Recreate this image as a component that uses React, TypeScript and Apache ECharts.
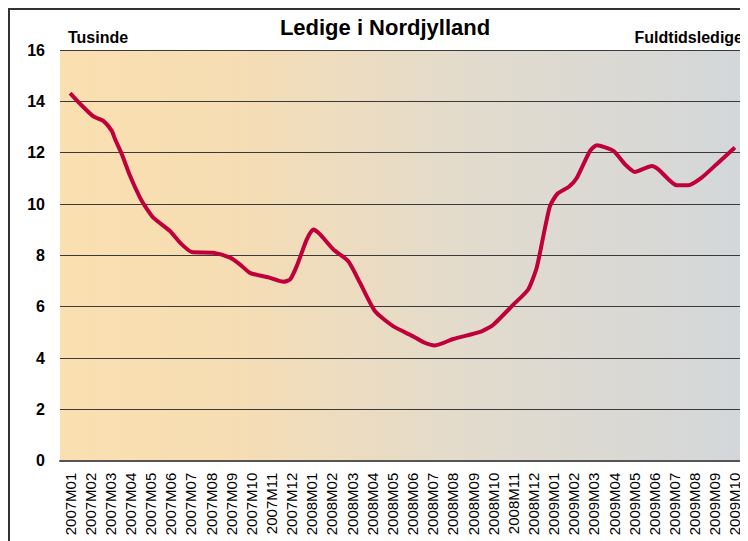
import React, { useEffect, useRef } from "react";
import * as echarts from "echarts";

const months: string[] = [
  "2007M01", "2007M02", "2007M03", "2007M04", "2007M05", "2007M06", "2007M07", "2007M08", "2007M09", "2007M10", "2007M11", "2007M12",
  "2008M01", "2008M02", "2008M03", "2008M04", "2008M05", "2008M06", "2008M07", "2008M08", "2008M09", "2008M10", "2008M11", "2008M12",
  "2009M01", "2009M02", "2009M03", "2009M04", "2009M05", "2009M06", "2009M07", "2009M08", "2009M09", "2009M10",
];

// position in months from 2007M01 (weekly-ish observations)
const linePos: number[] = [
  0, 0.5, 1.16, 1.65, 2.07, 2.23, 2.57, 2.98, 3.47, 3.72, 4.13, 4.96, 5.46, 6.04, 7.11, 7.94, 8.44, 8.93, 9.93, 10.59, 10.92,
  11.25, 11.75, 12.07, 12.41, 13.07, 13.81, 14.39, 15.14, 16.05, 17.04, 17.53, 18.11, 19.02, 20.43, 21.01, 22.0, 22.74, 23.16,
  23.49, 23.82, 24.19, 24.76, 25.14, 25.81, 26.14, 26.97, 27.54, 28.04, 28.54, 28.87, 29.2, 30.11, 30.69, 31.35, 32.09, 33.0,
];
const lineVal: number[] = [
  14.32, 13.9, 13.41, 13.24, 12.85, 12.53, 11.94, 11.09, 10.25, 9.92, 9.47, 8.95, 8.49, 8.13, 8.1, 7.91, 7.64, 7.32, 7.12, 6.97, 7.06,
  7.58, 8.62, 9.01, 8.82, 8.23, 7.77, 6.93, 5.82, 5.23, 4.84, 4.62, 4.49, 4.74, 5.04, 5.3, 6.08, 6.67, 7.52,
  8.75, 9.92, 10.4, 10.67, 11.0, 12.07, 12.29, 12.07, 11.55, 11.25, 11.4, 11.48, 11.35, 10.73, 10.73, 11.03, 11.55, 12.2,
];

const yTicks = { min: 0, max: 16, interval: 2 };

export default function App() {
  const ref = useRef<HTMLDivElement>(null);
  useEffect(() => {
    document.documentElement.style.overflow = "hidden";
    document.body.style.overflow = "hidden";
    if (!ref.current) return;
    const chart = echarts.init(ref.current, null, { renderer: "svg" });
    const font = "'Liberation Sans', Arial, sans-serif";
    chart.setOption({
      animation: false,
      textStyle: { fontFamily: font },
      grid: {
        left: 50,
        top: 40,
        width: 685,
        height: 410.7,
        show: true,
        borderWidth: 0,
        backgroundColor: new echarts.graphic.LinearGradient(0, 0, 1, 0, [
          { offset: 0, color: "#fae0b0" },
          { offset: 0.25, color: "#f6ddb3" },
          { offset: 0.6, color: "#e2dbcd" },
          { offset: 1, color: "#d3d7da" },
        ]),
      },
      graphic: [
        {
          type: "text",
          x: 375,
          y: 17,
          style: {
            text: "Ledige i Nordjylland",
            fontFamily: font,
            fontSize: 22,
            fontWeight: "bold",
            fill: "#000",
            textAlign: "center",
            textVerticalAlign: "middle",
          },
        },
        {
          type: "text",
          x: 58,
          y: 27,
          style: {
            text: "Tusinde",
            fontFamily: font,
            fontSize: 16,
            fontWeight: "bold",
            fill: "#000",
            textAlign: "left",
            textVerticalAlign: "middle",
          },
        },
        {
          type: "text",
          x: 733,
          y: 27,
          style: {
            text: "Fuldtidsledige",
            fontFamily: font,
            fontSize: 16,
            fontWeight: "bold",
            fill: "#000",
            textAlign: "right",
            textVerticalAlign: "middle",
          },
        },
      ],
      xAxis: [
        {
          type: "category",
          data: months,
          boundaryGap: true,
          axisLine: { show: true, lineStyle: { color: "#555", width: 2 } },
          axisTick: { show: false },
          axisLabel: {
            rotate: 90,
            interval: 0,
            margin: 12,
            fontSize: 15,
            fontFamily: font,
            color: "#000",
          },
          splitLine: { show: false },
        },
        {
          type: "value",
          min: -0.5,
          max: 33.5,
          show: false,
        },
      ],
      yAxis: {
        type: "value",
        min: yTicks.min,
        max: yTicks.max,
        interval: yTicks.interval,
        axisLine: { show: false },
        axisTick: { show: false },
        axisLabel: {
          margin: 15,
          fontSize: 16,
          fontWeight: "bold",
          fontFamily: font,
          color: "#000",
        },
        splitLine: { show: true, lineStyle: { color: "#3a3a3a", width: 1.2 } },
      },
      series: [
        {
          type: "line",
          xAxisIndex: 1,
          data: linePos.map((p, i) => [p, lineVal[i]]),
          showSymbol: false,
          smooth: 0.2,
          lineStyle: { color: "#c0003a", width: 4 },
          z: 5,
        },
      ],
    });
    return () => chart.dispose();
  }, []);
  return (
    <div
      style={{
        width: 740,
        height: 533,
        borderTop: "2px solid #333",
        borderLeft: "2px solid #333",
        boxSizing: "border-box",
        background: "#fff",
      }}
    >
      <div ref={ref} style={{ width: 738, height: 531 }} />
    </div>
  );
}
